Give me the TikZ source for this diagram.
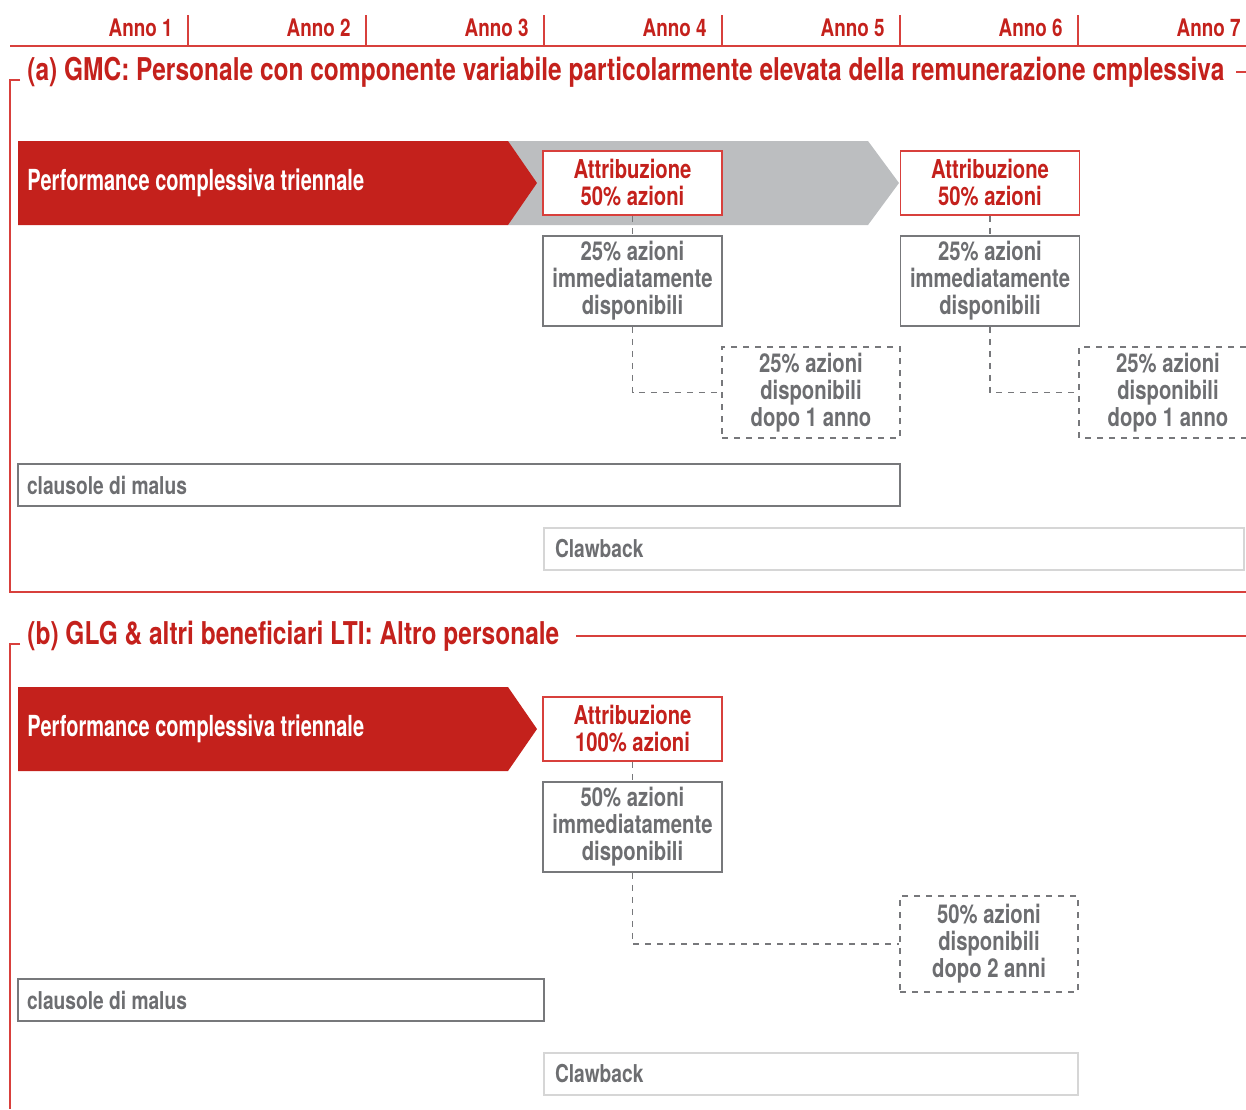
\documentclass[tikz,border=0pt]{standalone}
\usepackage{fontspec}
\setmainfont[FakeStretch=0.78]{TeX Gyre Heros}
\newfontfamily\perffont[FakeStretch=0.69]{TeX Gyre Heros}
\definecolor{gred}{HTML}{C4211C}
\definecolor{lred}{HTML}{D8403C}
\definecolor{gtext}{HTML}{6D6E71}
\definecolor{gline}{HTML}{77787B}
\definecolor{garrow}{HTML}{BCBEC0}
\definecolor{gpale}{HTML}{D6D6D6}
\tikzset{
  attr/.style={draw=lred, line width=0.75pt, fill=white, text=gred, align=center,
    minimum width=89.5pt, minimum height=32pt, inner sep=0pt,
    font=\bfseries\fontsize{13}{13.5}\selectfont},
  imm/.style={draw=gline, line width=0.75pt, fill=white, text=gtext, align=center,
    minimum width=89.5pt, minimum height=45pt, inner sep=0pt,
    font=\bfseries\fontsize{13}{13.5}\selectfont},
  later/.style={imm, dashed, minimum width=89pt, minimum height=45.5pt},
  bar/.style={draw=gline, line width=0.75pt, text=gtext, minimum height=21pt,
    inner sep=0pt, align=flush left, font=\bfseries\fontsize{12.3}{14}\selectfont},
  dashcon/.style={draw=gline, line width=0.6pt, dashed},
  title/.style={text=gred, anchor=west, inner sep=0pt,
    font=\bfseries\fontsize{15.7}{18}\selectfont},
  perf/.style={text=white, anchor=west, inner sep=0pt,
    font=\perffont\bfseries\fontsize{14.5}{16}\selectfont},
}
\begin{document}
\begin{tikzpicture}[x=0.5pt, y=-0.5pt]
\useasboundingbox (0,0) rectangle (1246,1109);
%Header
\draw[lred, line width=0.75pt] (10,46) -- (1246,46);
\foreach \i in {1,...,6}
  \draw[lred, line width=0.75pt] (10+178*\i,15) -- (10+178*\i,46);
\foreach \i in {1,...,7}
  \node[text=gred, anchor=east, inner sep=0pt, font=\bfseries\fontsize{12.1}{14}\selectfont]
    (anno\i) at (10+178*\i-15,28) {Anno \i};
%Frame (a)
\node[title] (ta) at (27,72) {(a) GMC: Personale con componente variabile particolarmente elevata della remunerazione cmplessiva};
\draw[lred, line width=0.75pt] (20,80) -- (10,80) -- (10,592) -- (1246,592);
\draw[lred, line width=0.75pt] (1236,72) -- (1246,72);
\fill[garrow] (508,141) -- (868,141) -- (899,183) -- (868,225) -- (508,225) -- cycle;
\fill[gred] (18,141) -- (508,141) -- (537,183) -- (508,225) -- (18,225) -- cycle;
\node[perf] (perfa) at (27,183) {Performance complessiva triennale};
\node[attr] (atta1) at (632.5,183) {Attribuzione\\50\% azioni};
\node[imm] (imma1) at (632.5,281) {25\% azioni\\immediatamente\\disponibili};
\node[later] (lata1) at (811,392.5) {25\% azioni\\disponibili\\dopo 1 anno};
\node[attr] (atta2) at (990,183) {Attribuzione\\50\% azioni};
\node[imm] (imma2) at (990,281) {25\% azioni\\immediatamente\\disponibili};
\node[text=gtext, align=center, inner sep=0pt, font=\bfseries\fontsize{13}{13.5}\selectfont]
  (lata2) at (1168,392.5) {25\% azioni\\disponibili\\dopo 1 anno};
\draw[dashcon] (1246,347) -- (1079,347) -- (1079,438) -- (1246,438);
\draw[dashcon] (atta1) -- (imma1);
\draw[dashcon] (imma1.south) |- (lata1.west);
\draw[dashcon] (atta2) -- (imma2);
\draw[dashcon] (imma2.south) |- (1079,392.5);
\node[bar, minimum width=441pt, text width=432pt] (malusa) at (459,485) {clausole di malus};
\node[bar, draw=gpale, minimum width=350pt, text width=339pt] (clawa) at (894,549) {Clawback};
%Frame (b)
\node[title] (tb) at (27,636) {(b) GLG \& altri beneficiari LTI: Altro personale};
\draw[lred, line width=0.75pt] (20,644) -- (10,644) -- (10,1109);
\draw[lred, line width=0.75pt] (576,636) -- (1246,636);
\fill[gred] (18,687) -- (508,687) -- (537,729) -- (508,771) -- (18,771) -- cycle;
\node[perf] (perfb) at (27,729) {Performance complessiva triennale};
\node[attr] (attb) at (632.5,729) {Attribuzione\\100\% azioni};
\node[imm] (immb) at (632.5,827) {50\% azioni\\immediatamente\\disponibili};
\node[later, minimum height=48pt] (latb) at (989,944) {50\% azioni\\disponibili\\dopo 2 anni};
\draw[dashcon] (attb) -- (immb);
\draw[dashcon] (immb.south) |- (latb.west);
\node[bar, minimum width=263pt, text width=254pt] (malusb) at (281,1000) {clausole di malus};
\node[bar, draw=gpale, minimum width=267pt, text width=256pt] (clawb) at (811,1074) {Clawback};
\end{tikzpicture}
\end{document}
